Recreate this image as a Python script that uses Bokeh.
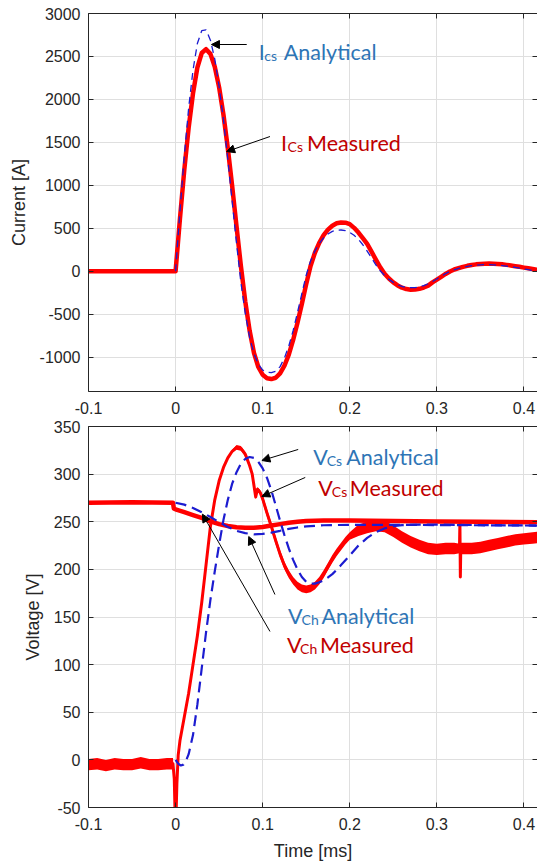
from bokeh.plotting import figure
from bokeh.layouts import column
from bokeh.models import Range1d, FixedTicker, LinearAxis, Label, Arrow, NormalHead
from bokeh.embed import file_html
from bokeh.resources import INLINE

# ---------------- data ----------------
x_ticks = [-0.1, 0, 0.1, 0.2, 0.3, 0.4]
x_tick_labels = ["-0.1", "0", "0.1", "0.2", "0.3", "0.4"]
i_ticks = [-1000, -500, 0, 500, 1000, 1500, 2000, 2500, 3000]
i_tick_labels = ["-1000", "-500", "0", "500", "1000", "1500", "2000", "2500", "3000"]
v_ticks = [-50, 0, 50, 100, 150, 200, 250, 300, 350]
v_tick_labels = ["-50", "0", "50", "100", "150", "200", "250", "300", "350"]

# top panel: capacitor current [A] vs time [ms]
t_pre = [-0.100, -0.050, -0.001]
i_pre = [0, 0, 0]
t_cur = [0.000, 0.005, 0.010, 0.015, 0.020, 0.025, 0.030, 0.035, 0.040, 0.045,
         0.050, 0.055, 0.060, 0.065, 0.070, 0.075, 0.080, 0.085, 0.090, 0.095,
         0.100, 0.105, 0.110, 0.115, 0.120, 0.125, 0.130, 0.135, 0.140, 0.145,
         0.150, 0.155, 0.160, 0.165, 0.170, 0.175, 0.180, 0.185, 0.190, 0.195,
         0.200, 0.205, 0.210, 0.215, 0.220, 0.225, 0.230, 0.235, 0.240, 0.245,
         0.250, 0.255, 0.260, 0.265, 0.270, 0.275, 0.280, 0.285, 0.290, 0.295,
         0.300, 0.305, 0.310, 0.315, 0.320, 0.325, 0.330, 0.335, 0.340, 0.345,
         0.350, 0.355, 0.360, 0.365, 0.370, 0.375, 0.380, 0.385, 0.390, 0.395,
         0.400, 0.405, 0.410, 0.415, 0.420]
i_cs_measured = [0, 610, 1180, 1670, 2070, 2370, 2540, 2585, 2530, 2380,
                 2140, 1820, 1430, 990, 520, 60, -350, -690, -950, -1115,
                 -1205, -1245, -1255, -1240, -1190, -1100, -970, -800, -600, -380,
                 -150, 60, 215, 330, 420, 485, 530, 558, 568, 565,
                 548, 505, 450, 385, 318, 228, 135, 45, -30, -85,
                 -130, -165, -192, -208, -215, -214, -205, -190, -168, -130,
                 -98, -65, -32, -3, 20, 36, 51, 63, 73, 80,
                 85, 88, 89, 88, 85, 80, 74, 67, 59, 51,
                 42, 34, 26, 18, 12]
i_cs_analytical = [0, 700, 1340, 1900, 2340, 2650, 2800, 2810, 2690, 2470,
                   2150, 1760, 1300, 810, 320, -130, -490, -770, -960, -1080,
                   -1150, -1175, -1180, -1165, -1110, -1010, -870, -690, -480, -260,
                   -45, 120, 235, 322, 388, 434, 464, 478, 480, 472,
                   452, 418, 370, 308, 235, 155, 75, 5, -50, -95,
                   -130, -158, -177, -188, -192, -190, -182, -167, -146, -120,
                   -90, -58, -28, -3, 17, 33, 46, 56, 64, 70,
                   74, 76, 76, 74, 71, 66, 60, 53, 45, 36,
                   27, 18, 9, 1, -6]

# bottom panel: voltages [V] vs time [ms]
t_vcs_meas = [-0.100, -0.090, -0.080, -0.070, -0.060, -0.050, -0.040, -0.030, -0.020, -0.010, -0.003,
              -0.0015, -0.0005, 0.0005, 0.0015, 0.003,
              0.005, 0.010, 0.015, 0.020, 0.025, 0.030, 0.035, 0.040, 0.045, 0.050,
              0.055, 0.060, 0.065, 0.070, 0.075, 0.080, 0.085,
              0.088, 0.090, 0.092, 0.094, 0.097,
              0.100, 0.105, 0.110, 0.115, 0.120, 0.125, 0.130, 0.135, 0.140, 0.145,
              0.150, 0.155, 0.160, 0.165, 0.170, 0.175, 0.180, 0.185, 0.190, 0.195, 0.200,
              0.210, 0.220, 0.230, 0.240, 0.250, 0.260, 0.270, 0.280, 0.290, 0.300, 0.310, 0.320,
              0.326, 0.3265, 0.327, 0.3275, 0.328,
              0.340, 0.350, 0.360, 0.370, 0.380, 0.390, 0.400, 0.410, 0.420]
v_cs_measured = [-5, -4, -6, -4, -5, -5, -3, -5, -5, -4, -4,
                 -20, -60, -60, -25, 5,
                 20, 45, 70, 100, 130, 165, 205, 245, 273, 293,
                 307, 317, 324, 328, 327, 321, 309,
                 300, 288, 276, 284, 281,
                 274, 259, 245, 230, 216, 204, 195, 188, 183, 180,
                 179, 180, 183, 188, 195, 203, 211, 218, 224, 230, 235,
                 241, 244, 246, 245, 240, 234, 229, 225, 222, 221, 222, 222,
                 222, 250, 192, 222, 222,
                 222, 223, 225, 227, 229, 231, 232, 233, 234]
v_cs_noise = [6, 6, 6, 6, 6, 6, 6, 6, 6, 6, 6,
              1, 1, 1, 1, 1,
              1.5, 1.5, 1.5, 1.5, 1.5, 1.5, 1.5, 1.5, 1.5, 1.5,
              1.5, 1.5, 1.5, 2.5, 2.5, 2.5, 2.5,
              2.5, 2.5, 2.5, 2.5, 2.5,
              4, 4, 4, 4, 4, 4, 4, 4, 4, 4,
              4, 4, 4, 4, 4, 4, 4, 4, 4, 4, 4,
              6, 6, 6, 6, 6, 6, 6, 6, 6, 6, 6, 6,
              5, 1, 1, 5, 6,
              6, 6, 6, 6, 6, 6, 6, 6, 6]

t_vch_meas = [-0.100, -0.050, -0.003, -0.002, 0.000, 0.010, 0.020, 0.030, 0.040, 0.050,
              0.060, 0.070, 0.080, 0.090, 0.100, 0.110, 0.120, 0.130, 0.140, 0.150,
              0.170, 0.200, 0.250, 0.300, 0.350, 0.420]
v_ch_measured = [270, 270.5, 270, 264, 263, 260, 257, 254, 250.5, 247.5,
                 245.5, 244.3, 243.7, 243.7, 244.5, 246, 247.5, 249, 250, 250.8,
                 251.3, 251.3, 250.8, 250.3, 250, 249.5]

t_vch_ana = [0.000, 0.010, 0.020, 0.030, 0.040, 0.050, 0.060, 0.070, 0.080, 0.090,
             0.100, 0.110, 0.120, 0.130, 0.140, 0.150, 0.170, 0.200, 0.250, 0.300,
             0.350, 0.420]
v_ch_analytical = [270, 268, 264.5, 260, 255, 249.5, 244.5, 240.5, 238, 236.8,
                   237.2, 238.6, 240.5, 242.5, 244, 245.2, 246.3, 246.8, 246.8, 246.5,
                   246.3, 246]

t_vcs_ana = [0.000, 0.003, 0.006, 0.009, 0.012, 0.015,
             0.020, 0.025, 0.030, 0.035, 0.040, 0.045, 0.050, 0.055, 0.060, 0.065,
             0.070, 0.075, 0.080, 0.085, 0.090, 0.095, 0.100, 0.105, 0.110, 0.115,
             0.120, 0.125, 0.130, 0.135, 0.140, 0.145, 0.150, 0.155, 0.160, 0.165,
             0.170, 0.175, 0.180, 0.185, 0.190, 0.195, 0.200,
             0.210, 0.220, 0.230, 0.240, 0.250, 0.260, 0.280, 0.300, 0.350, 0.420]
v_cs_analytical = [0, -4, -6, -5, -1, 6,
                   26, 58, 96, 134, 168, 198, 226, 252, 273, 290,
                   302, 311, 316, 318, 317, 313, 306, 296, 283, 267,
                   251, 236, 222, 210, 200, 192, 187, 185, 185, 186.5,
                   188.5, 191.5, 195, 199.5, 204.5, 209.5, 214.5,
                   225, 233, 239, 243, 245.5, 246.5, 247, 247, 246.5, 246]

# ---------------- styling ----------------
AX = "#262626"
GRID = "#dfdfdf"
RED = "#ff0000"
BLUE = "#1c1cd0"
TXT_BLUE = "#2e75b6"
TXT_RED = "#c00000"
TICK_FONT = "Liberation Sans"
NOTE_FONT = "Lato"
X_END = 0.4156
FIG_W = 537
LEFT = 88


def style(p, yticks, ylabels, xlabel, ylabel):
    p.outline_line_color = None
    xa = p.xaxis[0]
    ya = p.yaxis[0]
    for ax, ticks in ((xa, x_ticks), (ya, yticks)):
        ax.ticker = FixedTicker(ticks=ticks)
        ax.major_tick_in = 5
        ax.major_tick_out = 0
        ax.minor_tick_line_color = None
        ax.axis_line_color = AX
        ax.major_tick_line_color = AX
        ax.major_label_text_font = TICK_FONT
        ax.major_label_text_font_size = "16px"
        ax.major_label_text_color = AX
        ax.axis_label_text_font = TICK_FONT
        ax.axis_label_text_font_size = "18px"
        ax.axis_label_text_font_style = "normal"
        ax.axis_label_text_color = AX
    xa.major_label_overrides = dict(zip(x_ticks, x_tick_labels))
    ya.major_label_overrides = dict(zip(yticks, ylabels))
    xa.major_label_standoff = 10
    ya.major_label_standoff = 8
    ya.axis_label_standoff = 8
    xa.axis_label_standoff = 8
    if xlabel:
        xa.axis_label = xlabel
    ya.axis_label = ylabel
    p.xgrid.ticker = FixedTicker(ticks=x_ticks)
    p.ygrid.ticker = FixedTicker(ticks=yticks)
    p.grid.grid_line_color = GRID
    p.grid.grid_line_width = 1
    top = LinearAxis(ticker=FixedTicker(ticks=x_ticks), major_tick_in=5, major_tick_out=0,
                     minor_tick_line_color=None, major_label_text_font_size="1px",
                     major_label_text_color=None, major_label_standoff=0,
                     axis_line_color=AX, major_tick_line_color=AX)
    p.add_layout(top, "above")
    right = LinearAxis(ticker=FixedTicker(ticks=yticks), major_tick_in=5, major_tick_out=0,
                       minor_tick_line_color=None, major_label_text_font_size="1px",
                       major_label_text_color=None, major_label_standoff=0,
                       axis_line_color=None, major_tick_line_color=AX)
    p.add_layout(right, "right")


def note(p, x, y, main, sub, word, color, dx_sub, dx_word):
    common = dict(text_font=NOTE_FONT, text_color=color, text_baseline="alphabetic",
                  text_align="left")
    p.add_layout(Label(x=x, y=y, text=main, text_font_size="21.5px", **common))
    p.add_layout(Label(x=x, y=y, text=sub, text_font_size="14px", x_offset=dx_sub,
                       y_offset=-3.5, **common))
    p.add_layout(Label(x=x, y=y, text=word, text_font_size="21.5px", x_offset=dx_word, **common))


def arrow(p, xs, ys, xe, ye):
    p.add_layout(Arrow(x_start=xs, y_start=ys, x_end=xe, y_end=ye, line_color="black",
                       line_width=1,
                       end=NormalHead(size=8, fill_color="black", line_color="black",
                                      line_width=1)))


# ---------------- top: current ----------------
p1 = figure(width=FIG_W, height=418, x_range=Range1d(-0.1, X_END), y_range=Range1d(-1400, 3000),
            output_backend="svg", toolbar_location=None,
            min_border_left=LEFT, min_border_right=0, min_border_top=13, min_border_bottom=27)
style(p1, i_ticks, i_tick_labels, None, "Current [A]")

p1.line(t_pre + t_cur, i_pre + i_cs_measured, line_color=RED, line_width=4.5, line_join="round")
p1.line(t_cur, i_cs_analytical, line_color=BLUE, line_width=1.3, line_dash="7 5")

note(p1, 0.0956, 2557, "I", "cs", "Analytical", TXT_BLUE, 5.5, 25)
arrow(p1, 0.0817, 2639, 0.0412, 2639)
note(p1, 0.1211, 1492, "I", "Cs", "Measured", TXT_RED, 6.5, 26)
arrow(p1, 0.1084, 1568, 0.0586, 1393)

# ---------------- bottom: voltage ----------------
p2 = figure(width=FIG_W, height=447, x_range=Range1d(-0.1, X_END), y_range=Range1d(-50, 350),
            output_backend="svg", toolbar_location=None,
            min_border_left=LEFT, min_border_right=0, min_border_top=8, min_border_bottom=58)
style(p2, v_ticks, v_tick_labels, "Time [ms]", "Voltage [V]")

v_lo = [v - n for v, n in zip(v_cs_measured, v_cs_noise)]
v_hi = [v + n for v, n in zip(v_cs_measured, v_cs_noise)]
p2.varea(x=t_vcs_meas, y1=v_lo, y2=v_hi, fill_color=RED)
p2.line(t_vcs_meas, v_cs_measured, line_color=RED, line_width=3, line_join="round")
p2.line(t_vch_meas, v_ch_measured, line_color=RED, line_width=4.5, line_join="round")
p2.line(t_vcs_ana, v_cs_analytical, line_color=BLUE, line_width=2.2, line_dash="11 6")
p2.line(t_vch_ana, v_ch_analytical, line_color=BLUE, line_width=2.2, line_dash="11 6")

note(p2, 0.1581, 318.0, "V", "Cs", "Analytical", TXT_BLUE, 13.5, 33)
arrow(p2, 0.1408, 325.9, 0.0991, 314.3)
note(p2, 0.1639, 285.5, "V", "Cs", "Measured", TXT_RED, 13.5, 31.5)
arrow(p2, 0.1489, 296.5, 0.0991, 276.5)
note(p2, 0.1292, 150.6, "V", "Ch", "Analytical", TXT_BLUE, 13.5, 33.5)
arrow(p2, 0.1141, 173.6, 0.0840, 234.5)
note(p2, 0.1280, 120.1, "V", "Ch", "Measured", TXT_RED, 13, 33)
arrow(p2, 0.1084, 134.8, 0.0308, 258.0)

layout = column(p1, p2)
open("out.html", "w").write(file_html(layout, INLINE))
